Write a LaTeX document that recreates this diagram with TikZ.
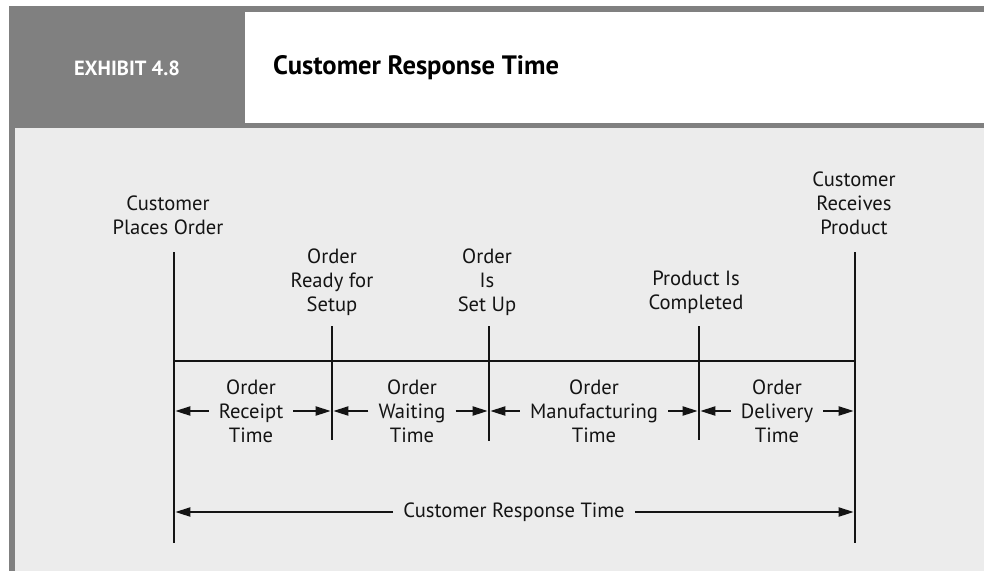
\documentclass[tikz,border=0pt]{standalone}
\usepackage{fontspec}
\setmainfont{PT Sans}
\usetikzlibrary{arrows.meta}
\definecolor{framegray}{HTML}{808080}
\definecolor{panelgray}{HTML}{ECECEC}
\definecolor{ink}{HTML}{141414}
\tikzset{
  lbl/.style={align=center, inner sep=0pt, text=ink, font=\fontsize{20.6}{23.8}\selectfont},
  seglbl/.style={lbl, inner xsep=10pt},
  structline/.style={draw=ink, line width=2.6pt},
  arr/.style={draw=ink, line width=2pt, -{Triangle[length=15pt,width=9pt]}, shorten >=1.3pt}
}
\begin{document}
\begin{tikzpicture}[x=1pt,y=-1pt]
\useasboundingbox (0,0) rectangle (984,571);
% background frame
\fill[white] (0,0) rectangle (984,571);
\fill[framegray] (9,6) rectangle (984,571);
\fill[white] (245,12) rectangle (984,123);
\fill[panelgray] (15,128) rectangle (984,571);
% header texts
\node[text=white, font=\bfseries\fontsize{20.5}{22}\selectfont] (exh) at (127,68) {EXHIBIT 4.8};
\node[anchor=west, inner sep=0pt, text=black, font=\bfseries\fontsize{26.6}{30}\selectfont] (title) at (273,68) {Customer Response Time};
% timeline coordinates
\coordinate (Lt) at (174,252);  \coordinate (Lb) at (174,543);
\coordinate (Rt) at (855,252);  \coordinate (Rb) at (855,543);
\coordinate (At) at (332,326);  \coordinate (Ab) at (332,440);
\coordinate (Bt) at (489,326);  \coordinate (Bb) at (489,441);
\coordinate (Ct) at (699,326);  \coordinate (Cb) at (699,440);
\coordinate (hl) at (174,361);  \coordinate (hr) at (855,361);
\coordinate (row) at (0,411);
\coordinate (bigrow) at (0,512);
% structure lines
\draw[structline] (Lt) -- (Lb);
\draw[structline] (Rt) -- (Rb);
\draw[structline] (At) -- (Ab);
\draw[structline] (Bt) -- (Bb);
\draw[structline] (Ct) -- (Cb);
\draw[structline] (hl) -- (hr);
% event labels
\node[lbl] (ev1) at (168,215) {Customer\\Places Order};
\node[lbl] (ev2) at (332,282) {Order\\Ready for\\Setup};
\node[lbl] (ev3) at (487,282) {Order\\Is\\Set Up};
\node[lbl] (ev4) at (696,292) {Product Is\\Completed};
\node[lbl] (ev5) at (854,203) {Customer\\Receives\\Product};
% segment labels
\node[seglbl] (s1) at (251,411) {Order\\Receipt\\Time};
\node[seglbl] (s2) at (412,411) {Order\\Waiting\\Time};
\node[seglbl] (s3) at (594,411) {Order\\Manufacturing\\Time};
\node[seglbl] (s4) at (777,411) {Order\\Delivery\\Time};
% segment arrows
\draw[arr] (s1.west |- row) -- (Lt |- row);
\draw[arr] (s1.east |- row) -- (At |- row);
\draw[arr] (s2.west |- row) -- (At |- row);
\draw[arr] (s2.east |- row) -- (Bt |- row);
\draw[arr] (s3.west |- row) -- (Bt |- row);
\draw[arr] (s3.east |- row) -- (Ct |- row);
\draw[arr] (s4.west |- row) -- (Ct |- row);
\draw[arr] (s4.east |- row) -- (Rt |- row);
% overall response time
\node[seglbl] (tot) at (514,512) {Customer Response Time};
\draw[arr] (tot.west |- bigrow) -- (Lt |- bigrow);
\draw[arr] (tot.east |- bigrow) -- (Rt |- bigrow);
\end{tikzpicture}
\end{document}
